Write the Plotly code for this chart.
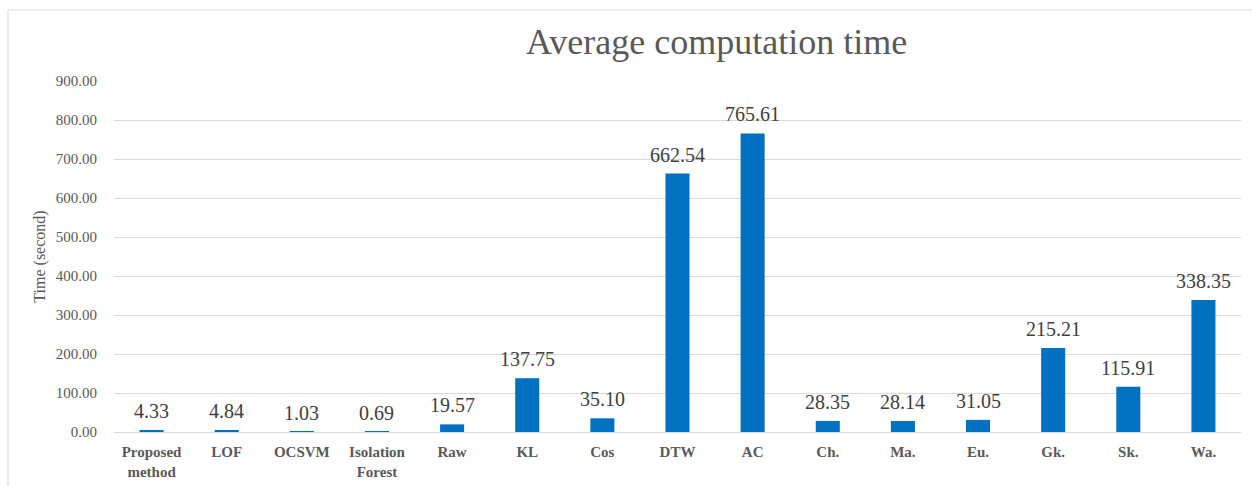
import plotly.graph_objects as go

# Average computation time per method (seconds)
methods = ["Proposed<br>method", "LOF", "OCSVM", "Isolation<br>Forest", "Raw", "KL", "Cos",
           "DTW", "AC", "Ch.", "Ma.", "Eu.", "Gk.", "Sk.", "Wa."]
times = [4.33, 4.84, 1.03, 0.69, 19.57, 137.75, 35.10, 662.54, 765.61,
         28.35, 28.14, 31.05, 215.21, 115.91, 338.35]
y_ticks = [0, 100, 200, 300, 400, 500, 600, 700, 800, 900]

W, H = 1252, 486
ML, MR, MT, MB = 114, 11, 81, 54
pw, ph = W - ML - MR, H - MT - MB

def px_x(x):
    return (x - ML) / pw

def px_y(y):
    return (H - MB - y) / ph

SERIF = "Liberation Serif, Times New Roman, serif"

fig = go.Figure(go.Bar(
    x=methods,
    y=times,
    marker=dict(color="#0070C0", line=dict(width=0)),
    width=0.32,
    cliponaxis=False,
))

# value labels above each bar
annotations = [
    dict(x=m, y=v, xref="x", yref="y", text=f"{v:.2f}", showarrow=False,
         yanchor="middle", yshift=19,
         font=dict(family=SERIF, size=20, color="#404040"))
    for m, v in zip(methods, times)
]
annotations.append(dict(
    text="Average computation time", xref="paper", yref="paper",
    x=px_x(716), y=px_y(42), xanchor="center", yanchor="middle",
    showarrow=False, font=dict(family=SERIF, size=36, color="#595959"),
))

fig.update_layout(
    width=W, height=H,
    margin=dict(l=ML, r=MR, t=MT, b=MB),
    paper_bgcolor="white",
    plot_bgcolor="white",
    showlegend=False,
    font=dict(family=SERIF, color="#595959"),
    xaxis=dict(
        showgrid=False, showline=True, linecolor="#d9d9d9", linewidth=1,
        ticks="", ticklabelstandoff=6, automargin=False,
        tickfont=dict(family="Liberation Serif", size=15, color="#595959"),
        tickprefix="<b>", ticksuffix="</b>",
    ),
    yaxis=dict(
        range=[0, 900], tickvals=y_ticks,
        ticktext=[f"{v:.2f}" for v in y_ticks],
        showgrid=True, gridcolor="#d9d9d9", gridwidth=1,
        zeroline=False, showline=False, ticks="", ticklabelstandoff=16,
        automargin=False,
        tickfont=dict(family=SERIF, size=15, color="#595959"),
        title=dict(text="Time (second)", font=dict(family=SERIF, size=16, color="#595959"),
                   standoff=6),
    ),
    annotations=annotations,
    shapes=[dict(
        type="rect", xref="paper", yref="paper",
        x0=px_x(8), x1=px_x(1300), y0=px_y(520), y1=px_y(10),
        line=dict(color="#d9d9d9", width=1), fillcolor="rgba(0,0,0,0)", layer="below",
    )],
)

fig.write_html("out.html")
